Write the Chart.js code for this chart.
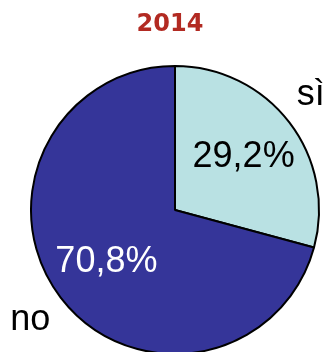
<!DOCTYPE html>
<html>
<head>
<meta charset="utf-8">
<script src="https://cdn.jsdelivr.net/npm/chart.js@4/dist/chart.umd.min.js"></script>
<style>
html,body{margin:0;padding:0;background:#fff;}
canvas{display:block;}
</style>
</head>
<body>
<canvas id="c" width="331" height="352"></canvas>
<script>
const title = "2014";
const categories = ["sì", "no"];
const values = [29.2, 70.8];
const colors = ["#b9e1e3", "#353599"];
const labelColors = ["#000000", "#ffffff"];

const outerNudge = [[-6, -6], [-3, 2]];

const labelPlugin = {
  id: 'labels',
  afterDraw(chart) {
    const ctx = chart.ctx;
    ctx.save();
    // title
    ctx.font = "bold 24px 'DejaVu Sans'";
    ctx.fillStyle = "#b22a22";
    ctx.textAlign = "center";
    ctx.textBaseline = "alphabetic";
    ctx.fillText(title, 170, 31);
    const meta = chart.getDatasetMeta(0);
    ctx.font = "36px 'Liberation Sans', Arial, sans-serif";
    ctx.textBaseline = "middle";
    meta.data.forEach((arc, i) => {
      const mid = (arc.startAngle + arc.endAngle) / 2;
      const r = arc.outerRadius;
      const ix = arc.x + Math.cos(mid) * r * 0.6;
      const iy = arc.y + Math.sin(mid) * r * 0.6;
      ctx.fillStyle = labelColors[i];
      ctx.fillText(values[i].toFixed(1).replace('.', ',') + '%', ix, iy);
      const ox = arc.x + Math.cos(mid) * r * 1.24 + outerNudge[i][0];
      const oy = arc.y + Math.sin(mid) * r * 1.24 + outerNudge[i][1];
      ctx.fillStyle = "#000000";
      ctx.fillText(categories[i], ox, oy);
    });
    ctx.restore();
  }
};

new Chart(document.getElementById('c'), {
  type: 'pie',
  data: {
    labels: categories,
    datasets: [{
      data: values,
      backgroundColor: colors,
      borderColor: "#000000",
      borderWidth: 2,
      radius: 144
    }]
  },
  options: {
    responsive: false,
    animation: false,
    devicePixelRatio: 1,
    layout: { padding: { left: 31, right: 12, top: 68, bottom: 0 } },
    plugins: {
      legend: { display: false },
      tooltip: { enabled: false },
      title: { display: false }
    }
  },
  plugins: [labelPlugin]
});
</script>
</body>
</html>
